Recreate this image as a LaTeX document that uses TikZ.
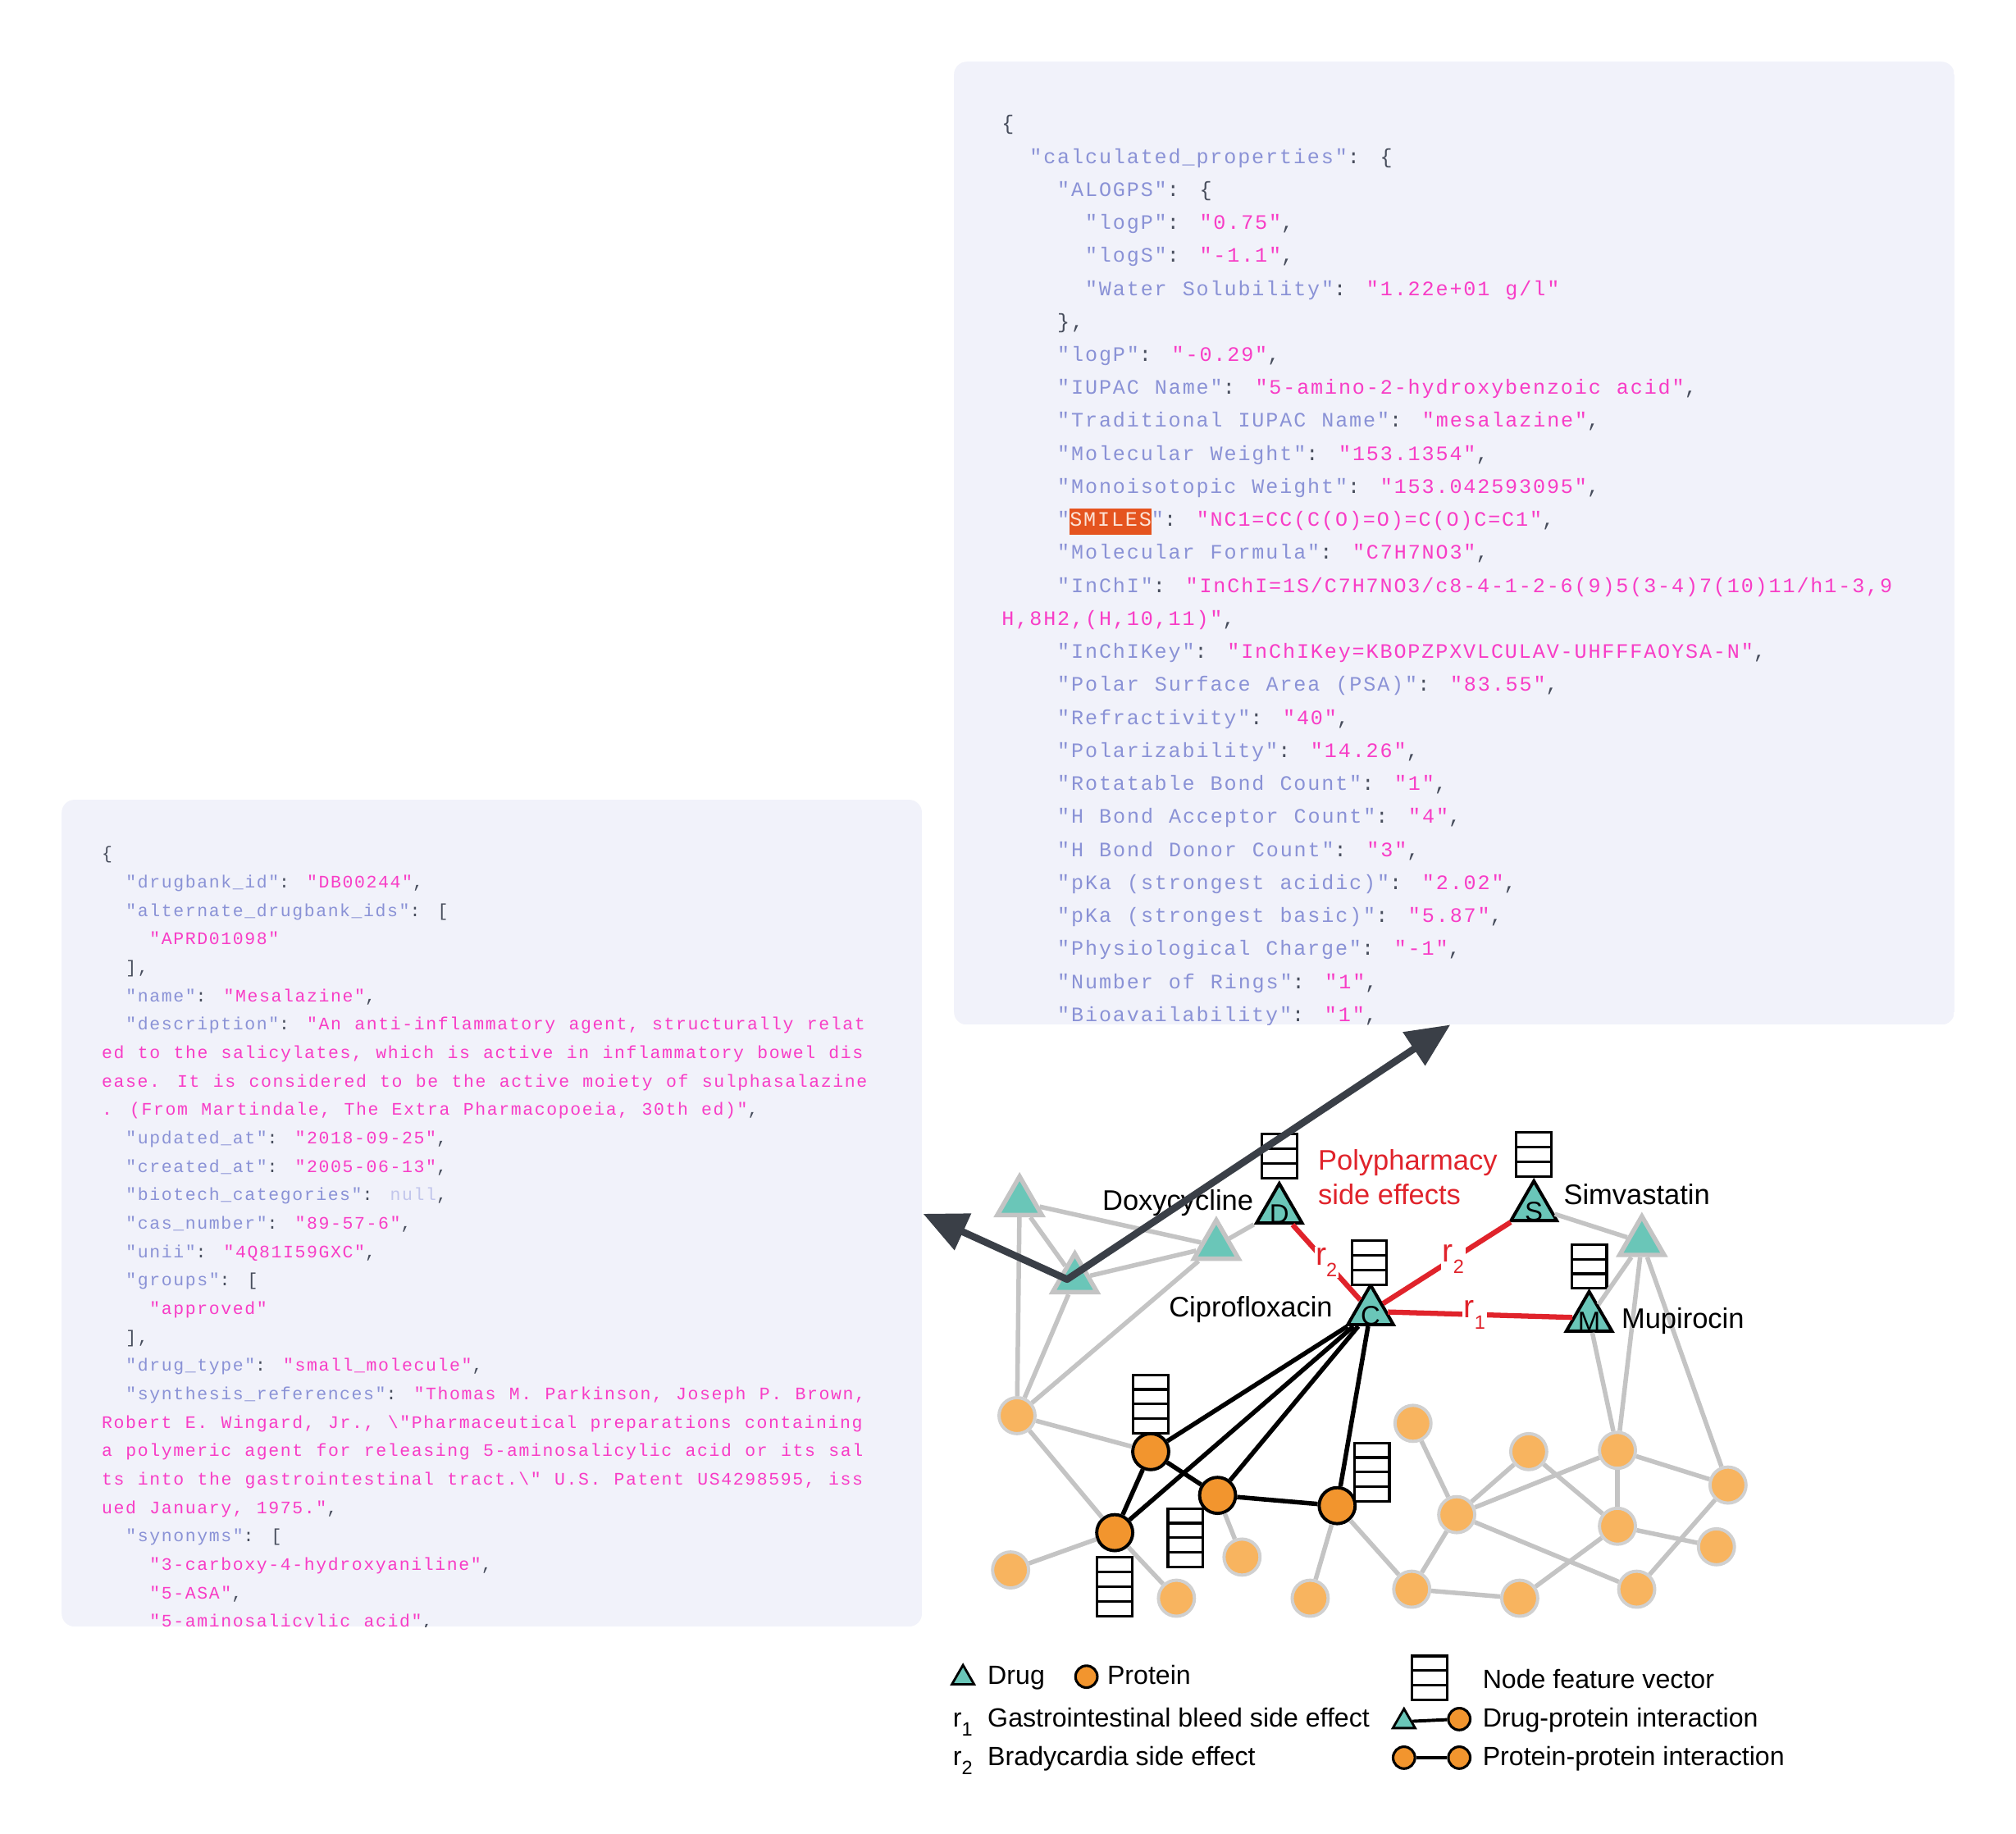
\documentclass[tikz,border=0pt]{standalone}
\usepackage{fontspec}
\usepackage{tikz}
\usetikzlibrary{positioning,arrows.meta,shapes.geometric,shapes.multipart}

\newfontfamily\codefont{Liberation Mono}[LetterSpace=7.5,WordSpace=1.125]
\newfontfamily\figfont{Liberation Sans}

\definecolor{panelbg}{HTML}{F1F2FA}
\definecolor{jsonkey}{HTML}{8A92D6}
\definecolor{jsonval}{HTML}{F83DC6}
\definecolor{jsonpunct}{HTML}{474D5C}
\definecolor{jsonnull}{HTML}{C2C6EC}
\definecolor{smilesbg}{HTML}{E5541F}
\definecolor{smilestext}{HTML}{FCE3D6}
\definecolor{drugteal}{HTML}{6AC6B8}
\definecolor{protdark}{HTML}{F2952E}
\definecolor{protlight}{HTML}{F8B45F}
\definecolor{edgegray}{HTML}{C4C4C4}
\definecolor{sidered}{HTML}{E0232B}
\definecolor{arrowdark}{HTML}{3A3F47}

\newcommand{\jk}[1]{\textcolor{jsonkey}{#1}}
\newcommand{\jv}[1]{\textcolor{jsonval}{#1}}
\newcommand{\jnull}{\textcolor{jsonnull}{null}}
\newcommand{\smileshl}[1]{{\setlength{\fboxsep}{0pt}\colorbox{smilesbg}{\rule[-6.8pt]{0pt}{20.6pt}\textcolor{smilestext}{#1}}}}
\newcommand{\rsub}[1]{r\raisebox{-0.35em}{\fontsize{15}{15}\selectfont#1}}

\tikzset{
  rcode/.style={font=\codefont\fontsize{16}{19}\selectfont, text=jsonpunct, anchor=base west, inner sep=0pt},
  lcode/.style={font=\codefont\fontsize{13.7}{16}\selectfont, text=jsonpunct, anchor=base west, inner sep=0pt},
  drug/.style={regular polygon, regular polygon sides=3, fill=drugteal, draw=black, line width=2.5pt, minimum size=41pt, inner sep=0pt},
  drugfaint/.style={regular polygon, regular polygon sides=3, fill=drugteal, draw=edgegray, line width=3.5pt, minimum size=40pt, inner sep=0pt},
  drugletter/.style={font=\figfont\fontsize{21}{21}\selectfont, inner sep=0pt, yshift=-3pt},
  protein/.style={circle, fill=protdark, draw=black, line width=2.5pt, minimum size=28pt, inner sep=0pt},
  protfaint/.style={circle, fill=protlight, draw=edgegray!80, line width=2.5pt, minimum size=28pt, inner sep=0pt},
  featvec/.style={rectangle split, rectangle split parts=#1, rectangle split ignore empty parts=false,
    rectangle split empty part height=7pt, rectangle split empty part depth=0pt,
    rectangle split empty part width=20pt, inner xsep=1.5pt, inner ysep=1.2pt,
    draw=black, line width=2pt, fill=white},
  grayedge/.style={draw=edgegray, line width=3.5pt},
  blackedge/.style={draw=black, line width=3.5pt},
  rededge/.style={draw=sidered, line width=4pt},
  rlabel/.style={fill=white, inner sep=1pt, text=sidered, font=\figfont\fontsize{25}{25}\selectfont},
  druglabel/.style={font=\figfont\fontsize{22}{22}\selectfont, inner sep=0pt},
  sidelabel/.style={font=\figfont\fontsize{22}{22}\selectfont, text=sidered, inner sep=0pt, anchor=base west},
  legtext/.style={font=\figfont\fontsize{20.5}{20.5}\selectfont, inner sep=0pt, anchor=base west},
  keydrug/.style={drug, minimum size=20pt, line width=1.8pt},
  keyprot/.style={protein, minimum size=17pt, line width=2pt},
  keyline/.style={draw=black, line width=2.5pt},
  bigarrow/.style={draw=arrowdark, line width=5.5pt, line join=round,
    arrows={Triangle[length=34pt,width=30pt]-Triangle[length=34pt,width=30pt]}}
}

\begin{document}
\begin{tikzpicture}[x=1pt,y=-1pt]
\fill[white] (0,0) rectangle (1568,1425.8);
\useasboundingbox (0,0) rectangle (1568,1425.8);

% calculated properties panel
\begin{scope}
  \clip[rounded corners=10pt] (742,48) rectangle (1520,797);
  \fill[panelbg] (742,48) rectangle (1520,797);
  \foreach \lvl/\txt [count=\i from 0] in {
    0/{\{},
    2/{\jk{"calculated\_properties"}: \{},
    4/{\jk{"ALOGPS"}: \{},
    6/{\jk{"logP"}: \jv{"0.75"},},
    6/{\jk{"logS"}: \jv{"-1.1"},},
    6/{\jk{"Water Solubility"}: \jv{"1.22e+01 g/l"}},
    4/{\},},
    4/{\jk{"logP"}: \jv{"-0.29"},},
    4/{\jk{"IUPAC Name"}: \jv{"5-amino-2-hydroxybenzoic acid"},},
    4/{\jk{"Traditional IUPAC Name"}: \jv{"mesalazine"},},
    4/{\jk{"Molecular Weight"}: \jv{"153.1354"},},
    4/{\jk{"Monoisotopic Weight"}: \jv{"153.042593095"},},
    4/{\jk{"}\smileshl{SMILES}\jk{"}: \jv{"NC1=CC(C(O)=O)=C(O)C=C1"},},
    4/{\jk{"Molecular Formula"}: \jv{"C7H7NO3"},},
    4/{\jk{"InChI"}: \jv{"InChI=1S/C7H7NO3/c8-4-1-2-6(9)5(3-4)7(10)11/h1-3,9}},
    0/{\jv{H,8H2,(H,10,11)"},},
    4/{\jk{"InChIKey"}: \jv{"InChIKey=KBOPZPXVLCULAV-UHFFFAOYSA-N"},},
    4/{\jk{"Polar Surface Area (PSA)"}: \jv{"83.55"},},
    4/{\jk{"Refractivity"}: \jv{"40"},},
    4/{\jk{"Polarizability"}: \jv{"14.26"},},
    4/{\jk{"Rotatable Bond Count"}: \jv{"1"},},
    4/{\jk{"H Bond Acceptor Count"}: \jv{"4"},},
    4/{\jk{"H Bond Donor Count"}: \jv{"3"},},
    4/{\jk{"pKa (strongest acidic)"}: \jv{"2.02"},},
    4/{\jk{"pKa (strongest basic)"}: \jv{"5.87"},},
    4/{\jk{"Physiological Charge"}: \jv{"-1"},},
    4/{\jk{"Number of Rings"}: \jv{"1"},},
    4/{\jk{"Bioavailability"}: \jv{"1"},}}
    \node[rcode] (rline\i) at ({779+10.8*\lvl},{101.3+25.67*\i}) {\txt};
\end{scope}

% drugbank record panel
\begin{scope}
  \clip[rounded corners=10pt] (48,622) rectangle (717,1265);
  \fill[panelbg] (48,622) rectangle (717,1265);
  \foreach \lvl/\txt [count=\i from 0] in {
    0/{\{},
    2/{\jk{"drugbank\_id"}: \jv{"DB00244"},},
    2/{\jk{"alternate\_drugbank\_ids"}: [},
    4/{\jv{"APRD01098"}},
    2/{],},
    2/{\jk{"name"}: \jv{"Mesalazine"},},
    2/{\jk{"description"}: \jv{"An anti-inflammatory agent, structurally relat}},
    0/{\jv{ed to the salicylates, which is active in inflammatory bowel dis}},
    0/{\jv{ease. It is considered to be the active moiety of sulphasalazine}},
    0/{\jv{. (From Martindale, The Extra Pharmacopoeia, 30th ed)"},},
    2/{\jk{"updated\_at"}: \jv{"2018-09-25"},},
    2/{\jk{"created\_at"}: \jv{"2005-06-13"},},
    2/{\jk{"biotech\_categories"}: \jnull,},
    2/{\jk{"cas\_number"}: \jv{"89-57-6"},},
    2/{\jk{"unii"}: \jv{"4Q81I59GXC"},},
    2/{\jk{"groups"}: [},
    4/{\jv{"approved"}},
    2/{],},
    2/{\jk{"drug\_type"}: \jv{"small\_molecule"},},
    2/{\jk{"synthesis\_references"}: \jv{"Thomas M. Parkinson, Joseph P. Brown,}},
    0/{\jv{Robert E. Wingard, Jr., \textbackslash"Pharmaceutical preparations containing}},
    0/{\jv{a polymeric agent for releasing 5-aminosalicylic acid or its sal}},
    0/{\jv{ts into the gastrointestinal tract.\textbackslash" U.S. Patent US4298595, iss}},
    0/{\jv{ued January, 1975."},},
    2/{\jk{"synonyms"}: [},
    4/{\jv{"3-carboxy-4-hydroxyaniline"},},
    4/{\jv{"5-ASA"},},
    4/{\jv{"5-aminosalicylic acid"},}}
    \node[lcode] (lline\i) at ({79+9.3*\lvl},{668.5+22.11*\i}) {\txt};
\end{scope}

% drugs
\node[drugfaint] (dga) at (793,935) {};
\node[drugfaint] (dgb) at (836,995) {};
\node[drugfaint] (dgc) at (946,969) {};
\node[drugfaint] (dge) at (1277,966) {};
\node[drug, label={[drugletter]center:D}] (doxy) at (995,941) {};
\node[drug, label={[drugletter]center:S}] (simva) at (1193,939) {};
\node[drug, label={[drugletter]center:C}] (cipro) at (1066,1020) {};
\node[drug, label={[drugletter]center:M}] (mupi) at (1236,1025) {};

% proteins
\node[protein] (pa) at (895,1129) {};
\node[protein] (pb) at (947,1163) {};
\node[protein] (pc) at (867,1192) {};
\node[protein] (pd) at (1040,1171) {};
\node[protfaint] (q1) at (791,1101) {};
\node[protfaint] (q2) at (786,1221) {};
\node[protfaint] (q3) at (915,1243) {};
\node[protfaint] (q4) at (966,1211) {};
\node[protfaint] (q5) at (1019,1243) {};
\node[protfaint] (q6) at (1099,1107) {};
\node[protfaint] (q7) at (1189,1129) {};
\node[protfaint] (q8) at (1133,1178) {};
\node[protfaint] (q9) at (1098,1236) {};
\node[protfaint] (q10) at (1182,1243) {};
\node[protfaint] (q11) at (1258,1128) {};
\node[protfaint] (q12) at (1258,1187) {};
\node[protfaint] (q13) at (1344,1155) {};
\node[protfaint] (q14) at (1335,1203) {};
\node[protfaint] (q15) at (1273,1236) {};

% feature vectors
\node[featvec=3] (fdoxy) at (995,899) {};
\node[featvec=3] (fsimva) at (1193,898) {};
\node[featvec=3] (fcipro) at (1065,982) {};
\node[featvec=3] (fmupi) at (1236,985) {};
\node[featvec=4] (fpa) at (895,1092) {};
\node[featvec=4] (fpd) at (1067,1145) {};
\node[featvec=4] (fpb) at (922,1196) {};
\node[featvec=4] (fpc) at (867,1234) {};

% edges
\draw[grayedge] (dga) -- (dgc);
\draw[grayedge] (dga) -- (dgb);
\draw[grayedge] (dgb) -- (dgc);
\draw[grayedge] (dgc) -- (doxy);
\draw[grayedge] (simva) -- (dge);
\draw[grayedge] (dge) -- (mupi);
\draw[grayedge] (dga) -- (q1);
\draw[grayedge] (dgb) -- (q1);
\draw[grayedge] (dgc) -- (q1);
\draw[grayedge] (mupi) -- (q11);
\draw[grayedge] (dge) -- (q11);
\draw[grayedge] (dge) -- (q13);
\draw[grayedge] (q1) -- (pa);
\draw[grayedge] (q1) -- (pc);
\draw[grayedge] (pc) -- (q3);
\draw[grayedge] (q2) -- (pc);
\draw[grayedge] (pb) -- (q4);
\draw[grayedge] (pd) -- (q5);
\draw[grayedge] (pd) -- (q9);
\draw[grayedge] (q6) -- (q8);
\draw[grayedge] (q8) -- (q9);
\draw[grayedge] (q8) -- (q7);
\draw[grayedge] (q8) -- (q11);
\draw[grayedge] (q8) -- (q15);
\draw[grayedge] (q7) -- (q12);
\draw[grayedge] (q11) -- (q12);
\draw[grayedge] (q11) -- (q13);
\draw[grayedge] (q12) -- (q14);
\draw[grayedge] (q12) -- (q10);
\draw[grayedge] (q9) -- (q10);
\draw[grayedge] (q13) -- (q15);
\draw[blackedge] (cipro) -- (pa);
\draw[blackedge] (cipro) -- (pb);
\draw[blackedge] (cipro) -- (pc);
\draw[blackedge] (cipro) -- (pd);
\draw[blackedge] (pa) -- (pb);
\draw[blackedge] (pa) -- (pc);
\draw[blackedge] (pb) -- (pd);
\draw[rededge] (doxy) -- node[rlabel] (rdc) {\rsub{2}} (cipro);
\draw[rededge] (cipro) -- node[rlabel, pos=0.55] (rcs) {\rsub{2}} (simva);
\draw[rededge] (cipro) -- node[rlabel, pos=0.47] (rcm) {\rsub{1}} (mupi);

% names
\node (doxylab) at (975,941) [druglabel, anchor=base east] {Doxycycline};
\node (simvalab) at (1216,937) [druglabel, anchor=base west] {Simvastatin};
\node (ciprolab) at (1036.6,1023.9) [druglabel, anchor=base east] {Ciprofloxacin};
\node (mupilab) at (1261,1033.4) [druglabel, anchor=base west] {Mupirocin};
\node[sidelabel] (polylab) at (1025,910) {Polypharmacy};
\node[sidelabel] (sidelab) at (1025,937) {side effects};

% legend
\node[keydrug] (keydrug) at (749,1305) {};
\node[keyprot] (keyprot) at (845,1304) {};
\node[legtext] (keydrugtxt) at (768,1310) {Drug};
\node[legtext] (keyprottxt) at (861,1310) {Protein};
\node[featvec=3] (keyfeat) at (1112,1305) {};
\node[legtext] (keyfeattxt) at (1153,1313) {Node feature vector};
\node[legtext] (keyrone) at (741,1343) {\rsub{1}};
\node[legtext] (keyronetxt) at (768,1343) {Gastrointestinal bleed side effect};
\node[legtext] (keyrtwo) at (741,1373) {\rsub{2}};
\node[legtext] (keyrtwotxt) at (768,1373) {Bradycardia side effect};
\node[keydrug] (keydpa) at (1092,1339) {};
\node[keyprot] (keydpb) at (1135,1337) {};
\draw[keyline] (keydpa) -- (keydpb);
\node[keyprot] (keyppa) at (1092,1367) {};
\node[keyprot] (keyppb) at (1135,1367) {};
\draw[keyline] (keyppa) -- (keyppb);
\node[legtext] (keydptxt) at (1153,1343) {Drug-protein interaction};
\node[legtext] (keypptxt) at (1153,1373) {Protein-protein interaction};

% pointers to the two records
\coordinate (arrowl) at (718,944);
\coordinate (arrowv) at (830,995);
\coordinate (arrowr) at (1128,797);
\draw[bigarrow] (arrowl) -- (arrowv) -- (arrowr);
\end{tikzpicture}
\end{document}
